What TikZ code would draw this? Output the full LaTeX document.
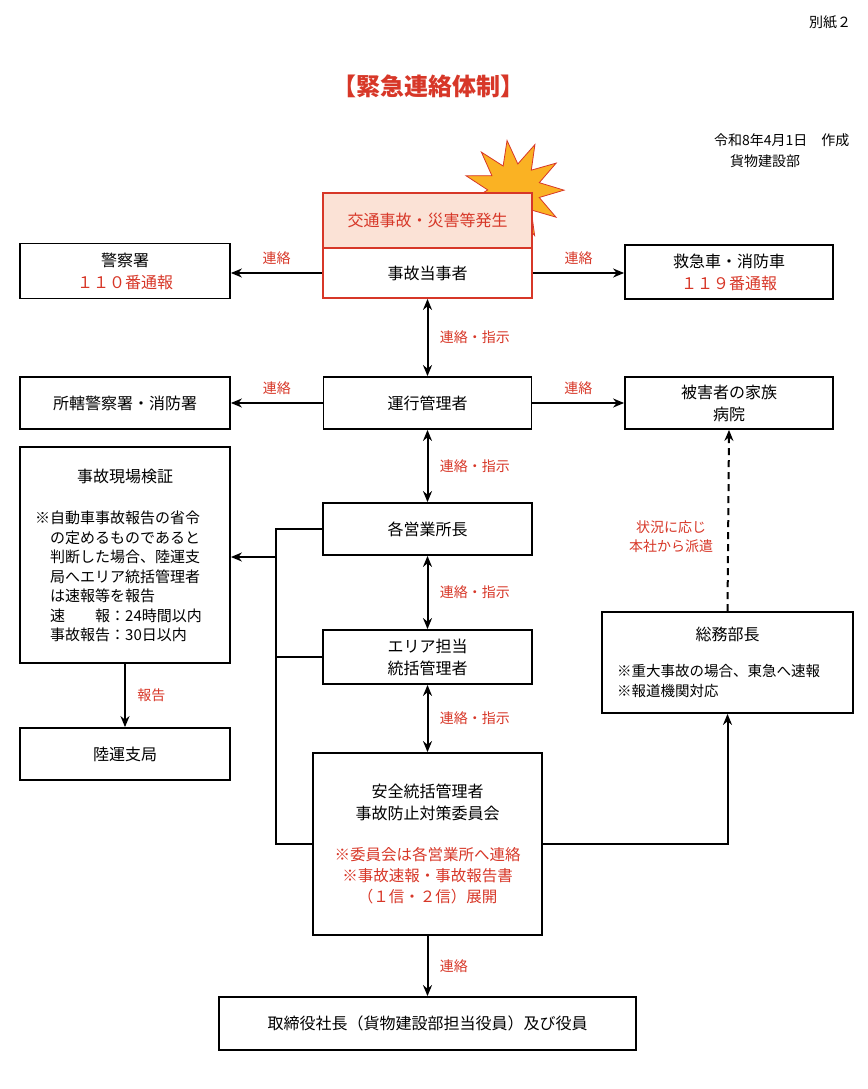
\documentclass[tikz,border=0pt]{standalone}
\usepackage{fontspec}
\setmainfont{Noto Sans CJK JP}
\usetikzlibrary{shapes.geometric,arrows.meta}
\definecolor{rd}{RGB}{215,55,40}
\definecolor{pk}{RGB}{251,226,214}
\definecolor{burst}{RGB}{250,178,35}
\tikzset{
  box/.style={draw, line width=1.8pt, inner sep=0pt, font=\fontsize{16}{22}\selectfont, align=center},
  lbl/.style={text=rd, font=\fontsize{14}{16}\selectfont},
  note/.style={font=\fontsize{15}{19.5}\selectfont, align=left, anchor=north west, inner sep=0pt},
  >={Stealth[length=11pt,width=9pt]}, link/.style={line width=2pt}
}
\begin{document}
\begin{tikzpicture}[x=1pt,y=-1pt]
  \useasboundingbox (0,0) rectangle (867,1089);

  \node[font=\fontsize{14}{15}\selectfont] at (830,22) (page) {別紙２};
  \node[text=rd, font=\fontsize{24}{26}\selectfont\bfseries] at (428,86) (title) {【緊急連絡体制】};
  \node[font=\fontsize{14}{15}\selectfont, anchor=east] at (853,140) (date) {令和8年4月1日\quad 作成};
  \node[font=\fontsize{14}{15}\selectfont] at (765,161) (dept) {貨物建設部};

  % starburst behind the accident box
  \node[star, star points=11, star point ratio=1.9, minimum size=100pt, fill=burst, draw=rd, thick, rotate=8] at (514,190) (boom) {};

  % accident box
  \node[box, draw=rd, fill=pk, minimum width=209pt, minimum height=55pt] at (427.5,220.5) (event) {};
  \node[text=rd, font=\fontsize{16}{19}\selectfont] at (event) (eventtxt) {交通事故・災害等発生};
  \node[box, draw=rd, fill=white, minimum width=209pt, minimum height=50pt] at (427.5,273) (party) {事故当事者};

  \node[box, minimum width=210pt, minimum height=55pt] at (125,271) (police)
    {警察署\\\textcolor{rd}{１１０番通報}};
  \node[box, minimum width=208pt, minimum height=54pt] at (729,272) (ambul)
    {救急車・消防車\\\textcolor{rd}{１１９番通報}};

  \node[box, minimum width=210pt, minimum height=52pt] at (125,403) (local) {所轄警察署・消防署};
  \node[box, minimum width=208pt, minimum height=52pt] at (427.5,403) (ops) {運行管理者};
  \node[box, minimum width=208pt, minimum height=52pt] at (729,403) (family) {被害者の家族\\病院};

  \node[box, minimum width=210pt, minimum height=216pt] at (125,555) (site) {};
  \node[font=\fontsize{16}{19}\selectfont] at (125,476) (sitetitle) {事故現場検証};
  \node[note] at (35,511) (sitenote) {※自動車事故報告の省令\\
    \hspace{1em}の定めるものであると\\
    \hspace{1em}判断した場合、陸運支\\
    \hspace{1em}局へエリア統括管理者\\
    \hspace{1em}は速報等を報告\\
    \hspace{1em}速\hspace{2em}報：24時間以内\\
    \hspace{1em}事故報告：30日以内};

  \node[box, minimum width=209pt, minimum height=52pt] at (427.5,529) (branch) {各営業所長};
  \node[box, minimum width=209pt, minimum height=54pt] at (427.5,657) (area) {エリア担当\\統括管理者};
  \node[box, minimum width=210pt, minimum height=52pt] at (125,754) (bureau) {陸運支局};

  \node[box, minimum width=251pt, minimum height=101pt] at (727.5,662.5) (general) {};
  \node[font=\fontsize{16}{19}\selectfont] at (727.5,634) (gentitle) {総務部長};
  \node[note, font=\fontsize{14.5}{20}\selectfont] at (617,664) (gennote) {※重大事故の場合、東急へ速報\\※報道機関対応};

  \node[box, minimum width=229pt, minimum height=182pt] at (427.5,844) (safety) {};
  \node[font=\fontsize{16}{22}\selectfont, align=center] at (427.5,802) (saftitle) {安全統括管理者\\事故防止対策委員会};
  \node[text=rd, font=\fontsize{15.5}{21}\selectfont, align=center] at (427.5,876) (safnote)
    {※委員会は各営業所へ連絡\\※事故速報・事故報告書\\（１信・２信）展開};

  \node[box, minimum width=417pt, minimum height=53pt] at (427.5,1023.5) (board) {取締役社長（貨物建設部担当役員）及び役員};

  % connectors
  \draw[link,->] (party.west) -- (party.west -| police.east) node[lbl, midway, above=4pt] (l1) {連絡};
  \draw[link,->] (party.east) -- (party.east -| ambul.west) node[lbl, midway, above=4pt] (l2) {連絡};
  \draw[link,->] (ops.west) -- (local.east) node[lbl, midway, above=4pt] (l3) {連絡};
  \draw[link,->] (ops.east) -- (family.west) node[lbl, midway, above=4pt] (l4) {連絡};

  \draw[link,<->] (party.south) -- (ops.north) node[lbl, midway, right=8pt] (l5) {連絡・指示};
  \draw[link,<->] (ops.south) -- (branch.north) node[lbl, midway, right=8pt] (l6) {連絡・指示};
  \draw[link,<->] (branch.south) -- (area.north) node[lbl, midway, right=8pt] (l7) {連絡・指示};
  \draw[link,<->] (area.south) -- (safety.north) node[lbl, midway, right=8pt] (l8) {連絡・指示};
  \draw[link,->] (safety.south) -- (board.north) node[lbl, midway, right=8pt] (l9) {連絡};

  \coordinate (busx) at (276,557);
  \draw[link] (branch.west) -| (busx) |- (safety.west);
  \draw[link] (area.west) -- (area.west -| busx);
  \draw[link,->] (busx) -- (busx -| site.east);

  \draw[link,->] (safety.east) -| (general.south);
  \draw[link,->,dash pattern=on 7pt off 5pt] (general.north) -- (family.south);
  \node[lbl, align=center, font=\fontsize{14}{19}\selectfont] at (671,537) (l10) {状況に応じ\\本社から派遣};

  \draw[link,->] (site.south) -- (bureau.north) node[lbl, midway, right=8pt] (l11) {報告};
\end{tikzpicture}
\end{document}
